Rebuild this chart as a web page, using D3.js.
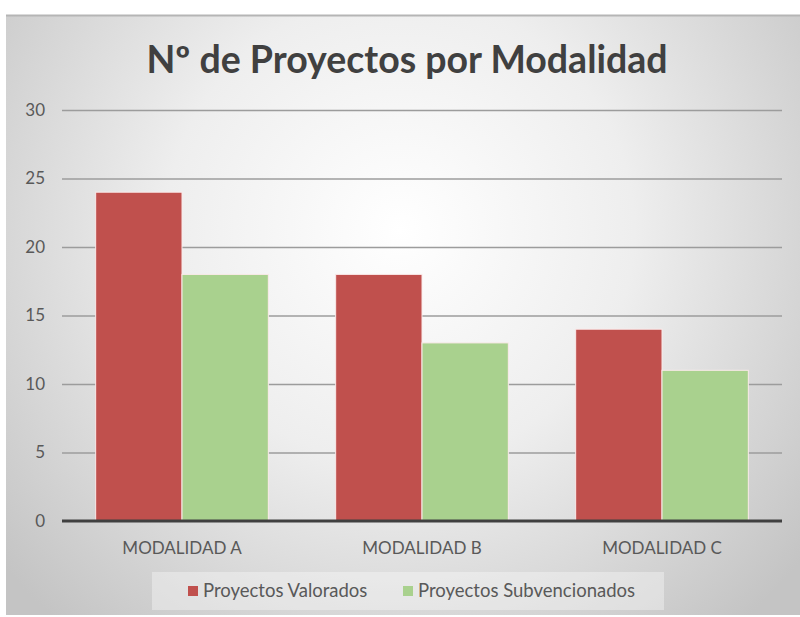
<html>
    <head>
        <script src="https://d3js.org/d3.v7.min.js"></script>
        <style>
            body { margin: 0; background: #fff; }
            .gridlines line { stroke: #9c9c9c; stroke-width: 1.5; }
            .gridlines .domain { stroke: none; }
            text { font-family: Lato, "Open Sans", sans-serif; }
        </style>
        <title>Proyectos por Modalidad</title>
    </head>
    <body>
        <div id="chart"></div>
        <script>
            const categories = ["MODALIDAD A", "MODALIDAD B", "MODALIDAD C"];
            const seriesNames = ["Proyectos Valorados", "Proyectos Subvencionados"];
            const valorados = [24, 18, 14];
            const subvencionados = [18, 13, 11];
            const yTicks = [0, 5, 10, 15, 20, 25, 30];
            const colors = ["#c0504d", "#a9d18e"];

            const width = 800;
            const height = 617;
            const margins = {top: 110, right: 18, bottom: 96, left: 62};
            const chartWidth = width - margins.left - margins.right;
            const chartHeight = height - margins.top - margins.bottom;

            let svg = d3.select("#chart").append("svg")
                        .attr("width", width)
                        .attr("height", height);

            // background panel with radial shading
            let grad = svg.append("defs").append("radialGradient")
                          .attr("id", "bg")
                          .attr("gradientUnits", "userSpaceOnUse")
                          .attr("cx", 400).attr("cy", 230).attr("r", 520)
            grad.selectAll("stop")
                .data([{o: "0%", c: "#ffffff"}, {o: "45%", c: "#eeeeee"}, {o: "100%", c: "#c4c4c4"}])
                .join("stop")
                .attr("offset", d => d.o)
                .attr("stop-color", d => d.c)

            svg.append("rect")
               .attr("x", 6).attr("y", 15)
               .attr("width", width - 6).attr("height", 600)
               .attr("fill", "url(#bg)")
            svg.append("line")
               .attr("x1", 6).attr("x2", width)
               .attr("y1", 15.5).attr("y2", 15.5)
               .attr("stroke", "#b5b5b5").attr("stroke-width", 2)

            let title = svg.append("text")
               .attr("x", 407).attr("y", 73)
               .attr("text-anchor", "middle")
               .style("font-size", "37.5px")
               .style("font-weight", "bold")
               .style("fill", "#404040")
               .text("Nº de Proyectos por Modalidad")

            let chartArea = svg.append("g")
                               .attr("transform", `translate(${margins.left}, ${margins.top})`)

            let yScale = d3.scaleLinear().domain([0, 30]).range([chartHeight, 0])
            let x0 = d3.scaleBand().domain(categories).range([0, chartWidth])
            let x1 = d3.scaleBand().domain(seriesNames).range([0, x0.bandwidth()])
                       .paddingInner(0).paddingOuter(0.39)

            let grid = d3.axisLeft(yScale).tickValues(yTicks.slice(1)).tickFormat("").tickSize(-chartWidth)
            chartArea.append("g").attr("class", "gridlines").call(grid)

            let leftAxis = d3.axisLeft(yScale).tickValues(yTicks).tickSize(0).tickPadding(17)
            let la = chartArea.append("g").call(leftAxis)
            la.select(".domain").remove()
            la.selectAll("text").style("font-size", "17px").style("fill", "#595959")

            let rows = categories.map((c, i) => ({cat: c, vals: [valorados[i], subvencionados[i]]}))
            chartArea.selectAll("g.grp").data(rows)
                     .join("g")
                     .attr("class", "grp")
                     .attr("transform", d => `translate(${x0(d.cat)}, 0)`)
                     .selectAll("rect")
                     .data(d => d.vals.map((v, j) => ({s: seriesNames[j], v: v, j: j})))
                     .join("rect")
                     .attr("x", d => x1(d.s))
                     .attr("y", d => yScale(d.v))
                     .attr("width", x1.bandwidth())
                     .attr("height", d => chartHeight - yScale(d.v))
                     .attr("fill", d => colors[d.j])
                     .attr("stroke", "#fbeaea")
                     .attr("stroke-width", 1)

            chartArea.append("line")
                     .attr("x1", 0).attr("x2", chartWidth)
                     .attr("y1", chartHeight).attr("y2", chartHeight)
                     .attr("stroke", "#404040").attr("stroke-width", 3)

            let bottomAxis = d3.axisBottom(x0).tickSize(0).tickPadding(21)
            let ba = chartArea.append("g").attr("transform", `translate(0, ${chartHeight})`).call(bottomAxis)
            ba.select(".domain").remove()
            ba.selectAll("text").style("font-size", "17px").style("fill", "#595959")

            // legend
            let legend = svg.append("g")
            legend.append("rect")
                  .attr("x", 152).attr("y", 572).attr("width", 512).attr("height", 38)
                  .attr("fill", "#ffffff").attr("fill-opacity", 0.35)
            let legendX = [188, 403]
            seriesNames.forEach((s, i) => {
                legend.append("rect")
                      .attr("x", legendX[i]).attr("y", 586).attr("width", 10).attr("height", 10)
                      .attr("fill", colors[i])
                legend.append("text")
                      .attr("x", legendX[i] + 15).attr("y", 597)
                      .style("font-size", "18.5px").style("fill", "#595959")
                      .text(s)
            })
        </script>
    </body>
</html>
